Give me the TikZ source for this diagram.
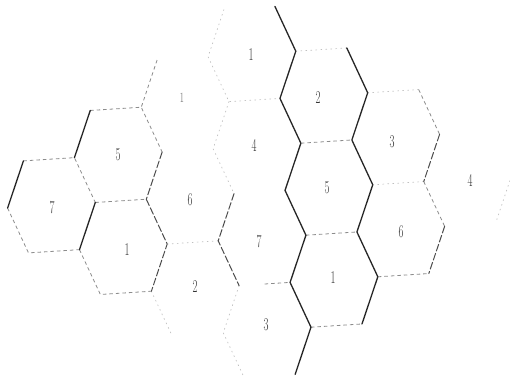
\documentclass[tikz,border=0pt]{standalone}
\usetikzlibrary{calc}
\tikzset{
  dk/.style={draw=black!85, line width=1.3pt, line cap=round, line join=round},
  dd/.style={draw=black!70, line width=1pt, dash pattern=on 7pt off 2.5pt, line cap=round},
  md/.style={draw=black!45, line width=0.8pt, dash pattern=on 3.5pt off 3pt},
  ft/.style={draw=black!25, line width=0.7pt, dash pattern=on 1pt off 4pt, line cap=round},
  lab/.style={inner sep=0pt, text=black!80, font=\fontsize{18}{18}\selectfont},
  labf/.style={lab, text=black!55, font=\fontsize{14}{14}\selectfont},
}
\newcommand\mkhex[3]{%
  \coordinate (#1R) at ({#2+43},{#3});
  \coordinate (#1TR) at ({#2+25},{#3-46});
  \coordinate (#1TL) at ({#2-25},{#3-46});
  \coordinate (#1L) at ({#2-43},{#3});
  \coordinate (#1BL) at ({#2-25},{#3+46});
  \coordinate (#1BR) at ({#2+25},{#3+46});
}
\newcommand\dg[1]{\scalebox{0.6}[1]{#1}}
\begin{document}
\begin{tikzpicture}[x=1pt,y=1pt]
\fill[white] (0,-381) rectangle (510,0);
\useasboundingbox (0,-381) rectangle (510,0);
\begin{scope}[shift={(257pt,-146pt)}, x={(1.02pt,0.065pt)}, y={(0.055pt,-1pt)}]
  \mkhex{hS}{-204}{46}
  \mkhex{hFa}{-136}{0}
  \mkhex{hOa}{-136}{92}
  \mkhex{hOb}{-68}{-46}
  \mkhex{hXa}{-68}{46}
  \mkhex{hTa}{-68}{138}
  \mkhex{hOc}{0}{-92}
  \mkhex{hQa}{0}{0}
  \mkhex{hSb}{0}{92}
  \mkhex{hHa}{0}{184}
  \mkhex{hTb}{68}{-46}
  \mkhex{hFb}{68}{46}
  \mkhex{hOd}{68}{138}
  \mkhex{hHb}{136}{0}
  \mkhex{hXb}{136}{92}
  \mkhex{hQb}{204}{46}
  \coordinate (hSbBM) at ($(hSbBL)!0.5!(hSbBR)$);
  % faint
  \draw[ft] (hOcTL)--(hOcL)--(hOcBL)--(hOcBR);
  \draw[ft] (hQaTL)--(hQaL)--(hQaBL);
  \draw[ft] (hTaL)--(hTaBL);
  \draw[ft] (hTaTL)--(hTaTR);
  \draw[ft] (hHaTL)--(hHaL)--(hHaBL);
  \draw[ft] (hHbTL)--(hHbTR);
  \draw[ft] (hHbBL)--(hHbBR);
  \draw[ft] (hTbTL)--(hTbTR);
  \draw[ft] (hQbR)--(hQbBR);
  % medium dashed
  \draw[md] (hFaTL)--(hFaTR)--(hFaR);
  \draw[md] (hObTL)--(hObL);
  \draw[md] (hSTL)--(hSTR)--(hSR);
  \draw[md] (hSL)--(hSBL)--(hSBR);
  \draw[md] (hFaBL)--(hFaBR);
  \draw[md] (hOaL)--(hOaBL)--(hOaBR);
  \draw[md] (hTbBL)--(hTbBR);
  \draw[md] (hFbBL)--(hFbBR);
  \draw[md] (hOdBL)--(hOdBR);
  \draw[md] (hHbTR)--(hHbR);
  \draw[md] (hXbTR)--(hXbR);
  \draw[md] (hXbBL)--(hXbBR);
  \draw[md] (hSbBM)--(hSbBR);
  % dark dashed
  \draw[dd] (hFaR)--(hFaBR);
  \draw[dd] (hXaL)--(hXaBL)--(hTaL);
  \draw[dd] (hXaR)--(hXaBR)--(hSbBL);
  \draw[dd] (hHbR)--(hHbBR);
  \draw[dd] (hXbR)--(hXbBR);
  % dark solid
  \draw[dk] (hOcTR)--(hOcR)--(hOcBR)--(hQaR)--(hQaBR)--(hSbR)--(hSbBR)--(hHaR)--(hHaBR);
  \draw[dk] (hTbTR)--(hTbR)--(hTbBR)--(hFbR)--(hFbBR)--(hOdR)--(hOdBR);
  \draw[dk] (hFaL)--(hFaTL);
  \draw[dk] (hSTL)--(hSL);
  \draw[dk] (hSR)--(hSBR);
\end{scope}
\node[lab] (t7) at (52,-208) {\dg{7}};
\node[lab] (t5a) at (118,-155) {\dg{5}};
\node[lab] (t1a) at (127,-250) {\dg{1}};
\node[labf] (t1b) at (182,-98) {\dg{1}};
\node[lab] (t6a) at (190,-200) {\dg{6}};
\node[lab] (t2a) at (195,-287) {\dg{2}};
\node[lab] (t1c) at (251,-55) {\dg{1}};
\node[lab] (t4a) at (254,-145) {\dg{4}};
\node[lab] (t7b) at (259,-242) {\dg{7}};
\node[lab] (t3a) at (266,-325) {\dg{3}};
\node[lab] (t2b) at (318,-98) {\dg{2}};
\node[lab] (t5b) at (327,-188) {\dg{5}};
\node[lab] (t1d) at (333,-278) {\dg{1}};
\node[lab] (t3b) at (392,-142) {\dg{3}};
\node[lab] (t6b) at (401,-232) {\dg{6}};
\node[lab] (t4b) at (470,-180) {\dg{4}};
\end{tikzpicture}
\end{document}
